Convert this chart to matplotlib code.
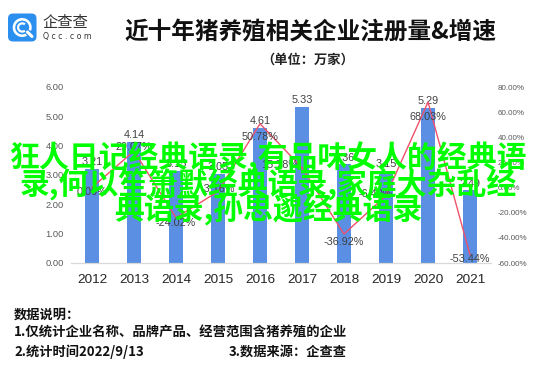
import matplotlib
matplotlib.use("Agg")
import matplotlib.pyplot as plt
from matplotlib.patches import FancyBboxPatch, Wedge
from matplotlib.ticker import FuncFormatter, MultipleLocator

plt.rcParams['font.family'] = ['Noto Sans CJK SC', 'DejaVu Sans']

years = ['2012', '2013', '2014', '2015', '2016', '2017', '2018', '2019', '2020', '2021']
counts = [3.21, 4.14, 3.15, 3.05, 4.61, 5.33, 3.36, 3.15, 5.29, 2.49]
growth = [0.06, 29.07, -24.02, -3.16, 50.78, 15.78, -36.92, -6.40, 68.03, -53.44]

title = '近十年猪养殖相关企业注册量&增速'
subtitle = '（单位：万家）'
notes = ['数据说明：', '1.仅统计企业名称、品牌产品、经营范围含猪养殖的企业', '2.统计时间2022/9/13']
source = '3.数据来源：企查查'
watermark = ['狂人日记经典语录,有品味女人的经典语', '录,何以笙箫默经典语录,家庭大杂乱经', '典语录,孙思邈经典语录']

W, H = 553, 369
fig = plt.figure(figsize=(W / 100, H / 100), dpi=100)
fig.patch.set_facecolor('white')

ax = fig.add_axes([71 / W, 1 - 263 / H, 420 / W, 176 / H])
ax2 = ax.twinx()

x = list(range(len(years)))
bar_color = '#5b8fe3'
line_color = '#f0506a'
txt_color = '#404040'
num_font = 'Liberation Sans'

ax.bar(x, counts, width=0.34, color=bar_color, zorder=2)
ax.set_xlim(-0.5, len(years) - 0.5)
ax.set_ylim(0, 6)
ax.yaxis.set_major_locator(MultipleLocator(1))
ax.yaxis.set_major_formatter(FuncFormatter(lambda v, p: f'{v:.2f}'))
ax.set_xticks(x)
ax.set_xticklabels(years, fontsize=9.7, color='#262626', family=num_font)
ax.tick_params(axis='x', length=0, pad=8)
ax.tick_params(axis='y', length=0, pad=5, labelsize=6.7, labelcolor='#595959')
for lab in ax.get_yticklabels():
    lab.set_family(num_font)

ax2.plot(x, [g / 100 for g in growth], color=line_color, lw=1.0, zorder=3)
ax2.set_ylim(-0.6, 0.8)
ax2.yaxis.set_major_locator(MultipleLocator(0.2))
ax2.yaxis.set_major_formatter(FuncFormatter(lambda v, p: f'{v * 100:.2f}%'))
ax2.tick_params(axis='y', length=0, pad=5, labelsize=5.8, labelcolor='#595959')
for lab in ax2.get_yticklabels():
    lab.set_family(num_font)

for a in (ax, ax2):
    for s in ('top', 'left', 'right'):
        a.spines[s].set_visible(False)
    a.spines['bottom'].set_color('#d9d9d9')
    a.spines['bottom'].set_linewidth(0.8)

# bar value labels
for xi, c in zip(x, counts):
    ax.annotate(f'{c:.2f}', (xi, c), xytext=(0, 1), textcoords='offset points',
                ha='center', va='bottom', fontsize=7.8, color=txt_color, family=num_font, zorder=4)

# growth labels (pixel offsets for label placement)
dy_px = [5, -4, 5, -3, 13, -3, 8, -2, 15, 4]
dx_px = [0, 0, 0, 0, 0, -22, 0, -10, 0, 0]
for xi, g, dx, dy in zip(x, growth, dx_px, dy_px):
    ax2.annotate(f'{g:.2f}%', (xi, g / 100), xytext=(dx * 0.72, -dy * 0.72), textcoords='offset points',
                 ha='center', va='center', fontsize=7.8, color=txt_color, family=num_font, zorder=4)

# title
fig.text(310 / W, 1 - 33 / H, title, ha='center', va='center', fontsize=17, fontweight='bold', color='#111111')
fig.text(308 / W, 1 - 60 / H, subtitle, ha='center', va='center', fontsize=9.5, fontweight='bold', color='#222222')

# logo
logo_ax = fig.add_axes([0, 1 - 50 / H, 100 / W, 50 / H])
logo_ax.set_xlim(0, 100)
logo_ax.set_ylim(50, 0)
logo_ax.axis('off')
logo_ax.add_patch(FancyBboxPatch((8, 13.5), 28.5, 28, boxstyle='round,pad=0,rounding_size=5',
                                 fc='#2b8ff0', ec='none'))
logo_ax.add_patch(Wedge((22.2, 27.5), 9.5, 60, 20, width=2.6, fc='white', ec='none'))
logo_ax.add_patch(Wedge((22.2, 27.5), 5.2, 50, 310, width=2.2, fc='white', ec='none'))
logo_ax.plot([27.5, 32], [32, 36.5], color='white', lw=2.2, solid_capstyle='round')
logo_ax.text(42.5, 22, '企查查', ha='left', va='center', fontsize=11, color='#333333')
logo_ax.text(43, 36.5, 'Q c c . c o m', ha='left', va='center', fontsize=5.6, color='#333333',
             family='DejaVu Sans')

# notes
fig.text(14 / W, 1 - 315 / H, notes[0], ha='left', va='center', fontsize=9.5, fontweight='bold', color='#111111')
fig.text(14 / W, 1 - 333 / H, notes[1], ha='left', va='center', fontsize=9.6, fontweight='bold', color='#111111')
fig.text(14 / W, 1 - 352 / H, notes[2], ha='left', va='center', fontsize=9.5, fontweight='bold', color='#111111')
fig.text(347 / W, 1 - 352 / H, source, ha='right', va='center', fontsize=9.5, fontweight='bold', color='#111111')

# watermark overlay
wm_y = [158, 184, 210]
for line, yy in zip(watermark, wm_y):
    fig.text(268 / W, 1 - yy / H, line, ha='center', va='center', fontsize=21.5, fontweight='bold',
             color='#00ff00', zorder=10)

fig.savefig('out.png', dpi=100)
